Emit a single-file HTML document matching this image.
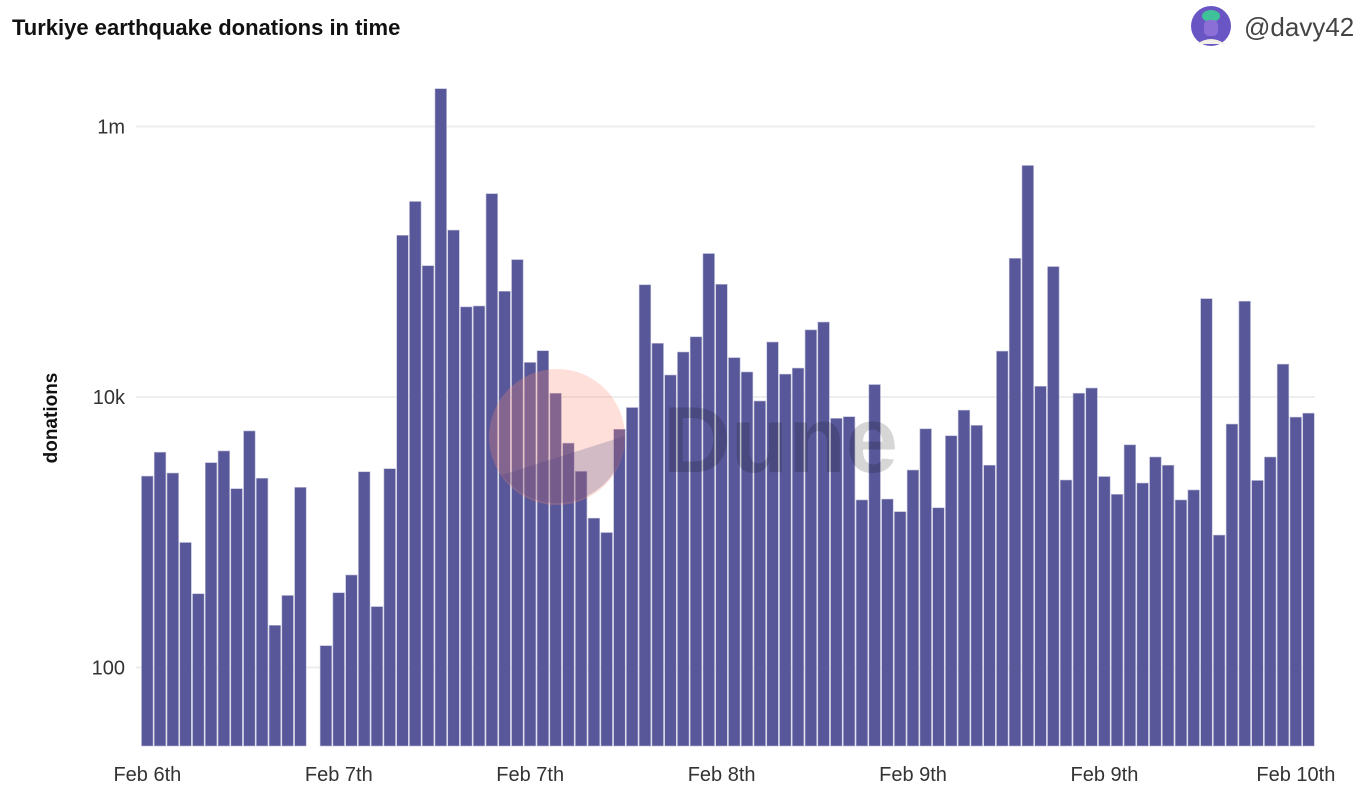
<!DOCTYPE html>
<html><head><meta charset="utf-8"><style>
html,body{margin:0;padding:0;background:#fff;}
body{width:1368px;height:792px;overflow:hidden;font-family:"Liberation Sans",sans-serif;}
</style></head><body>
<svg id="chart" width="1368" height="792" xmlns="http://www.w3.org/2000/svg">
  <text x="12" y="35" font-size="22" font-weight="bold" fill="#111">Turkiye earthquake donations in time</text>
  <g>
    <circle cx="1211" cy="26" r="20" fill="#6a55c4"/>
    <ellipse cx="1211" cy="16" rx="9" ry="6" fill="#3fc29a"/>
    <rect x="1204" y="20" width="14" height="16" rx="5" fill="#8c6fd6"/>
    <path d="M1197 44 Q1211 34 1225 44 Z" fill="#f2f0e6"/>
    <text x="1244" y="36" font-size="26" fill="#444">@davy42</text>
  </g>
  <g id="grid"></g>
  <g id="yticks"></g>
  <text transform="translate(57,418) rotate(-90)" text-anchor="middle" font-size="19" font-weight="bold" fill="#111">donations</text>
  <g id="bars"></g>
  <g>
    <circle cx="557" cy="437" r="68" fill="rgba(250,140,120,0.28)"/>
    <path d="M502 475 L625 436 A68 68 0 0 1 502 475 Z" fill="rgba(60,60,130,0.22)"/>
  </g>
  <text x="663" y="472" font-size="94" font-weight="bold" fill="rgba(0,0,0,0.16)">Dune</text>
  <g id="xticks"></g>
</svg>
<script>
const values = [2600,3905,2740,840,351,3270,3990,2100,5610,2507,205,341,2147,null,145,357,483,2800,282,2950,
156800,279000,93500,1904000,171400,46380,47070,318700,60470,103700,18010,21990,10660,4560,2820,1271,995,5775,8360,
67570,24940,14540,21510,27850,115000,68080,19540,15310,9340,25490,14760,16360,31350,35810,6950,7150,1733,12360,1759,
1420,2884,5820,1517,5170,7990,6170,3130,21830,106000,515000,12000,92130,2433,10660,11650,2582,1907,4430,2311,3600,
3130,1733,2054,53370,953,6310,51040,2415,3600,17490,7100,7590];
const yTickValues = [100,10000,1000000];
const yTickLabels = ["100","10k","1m"];
const xTickIndex = [0,15,30,45,60,75,90];
const xTickLabels = ["Feb 6th","Feb 7th","Feb 7th","Feb 8th","Feb 9th","Feb 9th","Feb 10th"];

const NS="http://www.w3.org/2000/svg";
const plotL=141, plotR=1315, plotB=746;
const pitch=(plotR-plotL)/values.length;
const yScale=v=>397-(Math.log10(v)-4)*135.25;
const xScale=i=>plotL+i*pitch;
function mk(tag,attrs,parent){const e=document.createElementNS(NS,tag);for(const k in attrs)e.setAttribute(k,attrs[k]);parent.appendChild(e);return e;}
const grid=document.getElementById('grid'), yt=document.getElementById('yticks'), bars=document.getElementById('bars'), xt=document.getElementById('xticks');
yTickValues.forEach((v,i)=>{
  const y=yScale(v);
  const l=mk('line',{x1:136,x2:1315,y1:y,y2:y,stroke:'#eeeeee','stroke-width':2},grid);
  
  
  const t=mk('text',{x:125,y:y+7,'text-anchor':'end','font-size':20,fill:'#333'},yt);
  t.textContent=yTickLabels[i];
  
  
});
values.forEach((v,i)=>{
  if(v==null)return;
  const y=yScale(v);
  const r=mk('rect',{x:xScale(i)+0.5,y:y,width:pitch-1.2,height:plotB-y,fill:'#575799',stroke:'#b9b9d6','stroke-width':0.6},bars);
  
  
});
xTickIndex.forEach((idx,i)=>{
  const t=mk('text',{x:xScale(idx)+pitch/2,y:781,'text-anchor':'middle','font-size':20,fill:'#333'},xt);
  t.textContent=xTickLabels[i];
  
  
});
</script>
</body></html>
